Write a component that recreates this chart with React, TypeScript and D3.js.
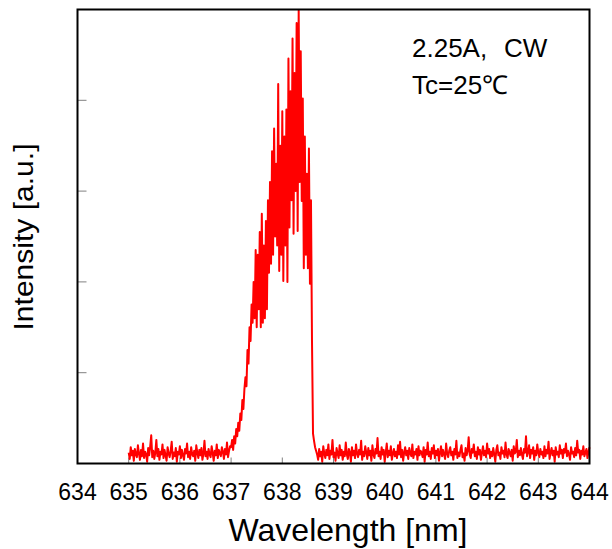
import React from "react";
import * as d3 from "d3";

// ---- Data ----
const xTicks = [634, 635, 636, 637, 638, 639, 640, 641, 642, 643, 644];
const yTicks = [1, 2, 3, 4];
const STEP = 0.02; // nm sampling of the spectrum

// baseline noise 635.00 .. 637.10
const leftStart = 635.0;
const leftValues = [
  0.12, 0.05, 0.18, 0.09, 0.14, 0.03, 0.16, 0.1, 0.07, 0.2,
  0.11, 0.04, 0.15, 0.08, 0.22, 0.06, 0.13, 0.1, 0.02, 0.17,
  0.09, 0.19, 0.31, 0.07, 0.14, 0.05, 0.12, 0.26, 0.08, 0.16,
  0.04, 0.13, 0.1, 0.21, 0.06, 0.15, 0.09, 0.03, 0.18, 0.11,
  0.07, 0.14, 0.24, 0.05, 0.12, 0.08, 0.17, 0.02, 0.13, 0.1,
  0.19, 0.06, 0.15, 0.09, 0.04, 0.16, 0.11, 0.22, 0.07, 0.13,
  0.05, 0.18, 0.1, 0.08, 0.14, 0.03, 0.2, 0.12, 0.06, 0.15,
  0.09, 0.17, 0.04, 0.11, 0.25, 0.08, 0.13, 0.05, 0.16, 0.1,
  0.07, 0.19, 0.12, 0.03, 0.14, 0.09, 0.21, 0.06, 0.15, 0.11,
  0.08, 0.18, 0.13, 0.05, 0.16, 0.1, 0.23, 0.07, 0.14, 0.19,
  0.18, 0.26, 0.15, 0.3, 0.22, 0.38,
];

// laser peak 637.12 .. 638.66
const peakStart = 637.12;
const peakValues = [
  0.3, 0.45, 0.36, 0.55, 0.48, 0.7, 0.6, 0.82, 0.95, 0.85,
  1.25, 1.1, 1.5, 1.35, 1.75, 1.55, 2.0, 1.6, 2.35, 1.5,
  2.3, 1.7, 2.55, 1.5, 2.75, 1.55, 2.4, 1.6, 2.67, 1.7,
  2.9, 2.1, 3.1, 2.2, 3.44, 2.3, 3.69, 2.5, 3.3, 2.4,
  4.18, 2.12, 3.5, 2.3, 3.88, 2.01, 3.6, 2.4, 3.9, 2.0,
  4.46, 2.6, 4.1, 2.9, 4.68, 2.53, 4.3, 3.0, 4.85, 2.56,
  4.99, 3.1, 4.54, 2.89, 4.02, 2.15, 3.6, 2.3, 3.19, 2.15,
  3.47, 1.98, 2.9, 1.35, 0.33, 0.25, 0.18, 0.14,
];

// baseline noise 638.68 .. 644.00
const rightStart = 638.68;
const rightValues = [
  0.1, 0.04, 0.16, 0.08, 0.13, 0.02, 0.19, 0.11, 0.06, 0.15,
  0.09, 0.21, 0.05, 0.14, 0.1, 0.26, 0.07, 0.12, 0.03, 0.17,
  0.11, 0.06, 0.2, 0.09, 0.15, 0.04, 0.13, 0.08, 0.23, 0.1,
  0.05, 0.16, 0.12, 0.02, 0.18, 0.09, 0.14, 0.06, 0.21, 0.11,
  0.07, 0.15, 0.1, 0.25, 0.04, 0.13, 0.08, 0.19, 0.12, 0.05,
  0.17, 0.09, 0.14, 0.03, 0.2, 0.1, 0.06, 0.16, 0.11, 0.28,
  0.08, 0.13, 0.05, 0.18, 0.1, 0.15, 0.02, 0.12, 0.22, 0.07,
  0.14, 0.09, 0.19, 0.04, 0.11, 0.16, 0.08, 0.13, 0.06, 0.2,
  0.1, 0.24, 0.07, 0.15, 0.03, 0.12, 0.18, 0.09, 0.14, 0.05,
  0.17, 0.11, 0.08, 0.21, 0.06, 0.13, 0.1, 0.16, 0.04, 0.19,
  0.09, 0.14, 0.12, 0.07, 0.18, 0.02, 0.15, 0.1, 0.23, 0.08,
  0.13, 0.05, 0.17, 0.11, 0.2, 0.06, 0.14, 0.09, 0.16, 0.03,
  0.12, 0.19, 0.08, 0.15, 0.1, 0.05, 0.22, 0.11, 0.07, 0.14,
  0.18, 0.09, 0.13, 0.04, 0.16, 0.1, 0.25, 0.06, 0.12, 0.08,
  0.15, 0.2, 0.07, 0.11, 0.03, 0.17, 0.09, 0.14, 0.29, 0.1,
  0.06, 0.16, 0.12, 0.21, 0.08, 0.13, 0.05, 0.18, 0.1, 0.15,
  0.04, 0.12, 0.19, 0.09, 0.14, 0.07, 0.22, 0.11, 0.16, 0.06,
  0.13, 0.08, 0.17, 0.1, 0.02, 0.15, 0.2, 0.09, 0.12, 0.05,
  0.18, 0.11, 0.14, 0.07, 0.23, 0.1, 0.06, 0.16, 0.12, 0.08,
  0.15, 0.03, 0.19, 0.11, 0.13, 0.26, 0.07, 0.14, 0.09, 0.17,
  0.1, 0.05, 0.16, 0.12, 0.3, 0.08, 0.13, 0.2, 0.06, 0.15,
  0.11, 0.18, 0.04, 0.14, 0.09, 0.21, 0.12, 0.07, 0.16, 0.1,
  0.13, 0.06, 0.19, 0.08, 0.15, 0.11, 0.24, 0.05, 0.12, 0.17,
  0.09, 0.14, 0.02, 0.18, 0.1, 0.13, 0.07, 0.2, 0.11, 0.15,
  0.06, 0.16, 0.12, 0.22, 0.08, 0.14, 0.1, 0.04, 0.18, 0.11,
  0.13, 0.07, 0.17, 0.09, 0.25, 0.12, 0.15, 0.05, 0.14, 0.1,
  0.19, 0.08, 0.12, 0.16, 0.06, 0.13, 0.18,
];

const annotation1a = "2.25A,";
const annotation1b = "CW";
const annotation2 = "Tc=25\u2103";
const xLabel = "Wavelength [nm]";
const yLabel = "Intensity [a.u.]";

const FONT = "'Liberation Sans', Arial, Helvetica, sans-serif";

export default function App() {
  const W = 612;
  const H = 549;
  const left = 77.5;
  const right = 589.5;
  const top = 9.5;
  const bottom = 463.5;

  const x = d3.scaleLinear().domain([634, 644]).range([left, right]);
  const y = d3.scaleLinear().domain([0, 5]).range([bottom, top]);

  const seg = (start: number, vals: number[]) =>
    vals.map((v, i) => [start + i * STEP, v] as [number, number]);
  const points = [
    ...seg(leftStart, leftValues),
    ...seg(peakStart, peakValues),
    ...seg(rightStart, rightValues),
  ].filter((p) => p[0] <= 644.0001);

  const line = d3
    .line<[number, number]>()
    .x((d) => x(d[0]))
    .y((d) => y(d[1]));

  return (
    <svg
      width={W}
      height={H}
      style={{ position: "absolute", left: 0, top: 0, background: "#fff" }}
      fontFamily={FONT}
    >
      <rect x={0} y={0} width={W} height={H} fill="#fff" />
      {/* y ticks (inward) */}
      {yTicks.map((t) => (
        <line
          key={"yt" + t}
          x1={left}
          x2={left + 9}
          y1={y(t)}
          y2={y(t)}
          stroke="#808080"
          strokeWidth={1}
        />
      ))}
      {/* x ticks (inward) */}
      {xTicks.map((t) => (
        <line
          key={"xt" + t}
          x1={x(t)}
          x2={x(t)}
          y1={bottom}
          y2={bottom - 6}
          stroke="#808080"
          strokeWidth={1}
        />
      ))}
      {/* spectrum */}
      <path
        d={line(points) || ""}
        fill="none"
        stroke="#ff0000"
        strokeWidth={2}
        strokeLinejoin="round"
      />
      {/* frame */}
      <rect
        x={left}
        y={top}
        width={right - left}
        height={bottom - top}
        fill="none"
        stroke="#000"
        strokeWidth={2}
      />
      {/* x tick labels */}
      {xTicks.map((t) => (
        <text
          key={"xl" + t}
          x={x(t)}
          y={500}
          textAnchor="middle"
          fontSize={23}
          fill="#000"
        >
          {t}
        </text>
      ))}
      {/* axis titles */}
      <text x={348} y={541} textAnchor="middle" fontSize={32} fill="#000">
        {xLabel}
      </text>
      <text
        transform="translate(33,237) rotate(-90)"
        textAnchor="middle"
        fontSize={27}
        fill="#000"
        textLength={187}
        lengthAdjust="spacingAndGlyphs"
      >
        {yLabel}
      </text>
      {/* annotation */}
      <text x={412} y={57} fontSize={26} fill="#000">
        {annotation1a}
      </text>
      <text x={504} y={57} fontSize={26} fill="#000">
        {annotation1b}
      </text>
      <text x={412} y={94} fontSize={26} fill="#000">
        {annotation2}
      </text>
    </svg>
  );
}
